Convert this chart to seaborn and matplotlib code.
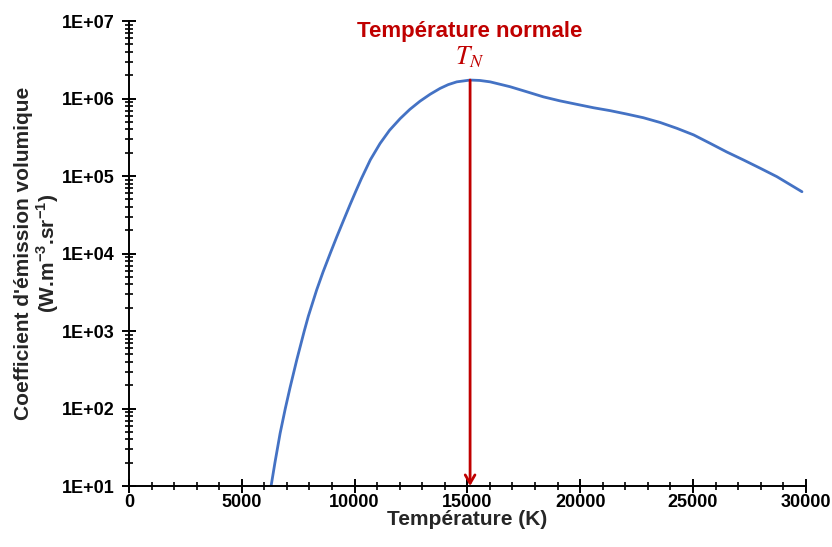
import numpy as np
import pandas as pd
import matplotlib
matplotlib.use("Agg")
import matplotlib.pyplot as plt
from matplotlib.ticker import FixedLocator, MultipleLocator, NullFormatter
import seaborn as sns

temperature = [6300, 6470, 6700, 6930, 7140, 7440, 7770, 7950, 8320, 8600, 8930, 9210,
               9500, 9800, 10050, 10300, 10700, 11130, 11550, 12020, 12450, 12900,
               13350, 13790, 14150, 14530, 15120, 15550, 16010, 16890, 17600, 18370,
               19100, 19850, 20600, 21330, 22050, 22800, 23550, 24290, 25030, 25760,
               26500, 27240, 27980, 28720, 29300, 29830]
emission = [1.0e1, 2.0e1, 4.79e1, 1.0e2, 1.86e2, 4.27e2, 1.0e3, 1.55e3, 3.39e3, 5.75e3,
            1.02e4, 1.64e4, 2.63e4, 4.27e4, 6.31e4, 9.23e4, 1.62e5, 2.63e5, 3.89e5,
            5.50e5, 7.24e5, 9.23e5, 1.135e6, 1.35e6, 1.51e6, 1.64e6, 1.73e6, 1.71e6,
            1.64e6, 1.42e6, 1.23e6, 1.05e6, 9.33e5, 8.41e5, 7.59e5, 6.97e5, 6.31e5,
            5.65e5, 4.90e5, 4.12e5, 3.39e5, 2.64e5, 2.04e5, 1.61e5, 1.26e5, 9.8e4,
            7.76e4, 6.27e4]
y_ticks = [1e1, 1e2, 1e3, 1e4, 1e5, 1e6, 1e7]
y_tick_labels = ["1E+01", "1E+02", "1E+03", "1E+04", "1E+05", "1E+06", "1E+07"]
x_ticks = [0, 5000, 10000, 15000, 20000, 25000, 30000]
x_tick_labels = ["0", "5000", "10000", "15000", "20000", "25000", "30000"]
t_normal = 15120
peak_value = 1.73e6
title_text = "Température normale"
x_label = "Température (K)"
y_label = "Coefficient d'émission volumique\n(W.m$^{\\mathbf{-3}}$.sr$^{\\mathbf{-1}}$)"

sns.set_style("ticks")
plt.rcParams['font.family'] = ['Liberation Sans', 'DejaVu Sans']
plt.rcParams['mathtext.fontset'] = 'custom'
plt.rcParams['mathtext.rm'] = 'Liberation Sans:bold'
plt.rcParams['mathtext.bf'] = 'Liberation Sans:bold'

fig = plt.figure(figsize=(8.32, 5.47), dpi=100)
ax = fig.add_axes([0.155, 0.1115, 0.8135, 0.8501])

df = pd.DataFrame({"T": temperature, "E": emission})
sns.lineplot(data=df, x="T", y="E", ax=ax, color="#4472C4", linewidth=2.0)

ax.set_yscale("log")
ax.set_xlim(0, 30000)
ax.set_ylim(1e1, 1e7)

ax.set_xticks(x_ticks)
ax.set_xticklabels(x_tick_labels)
ax.xaxis.set_minor_locator(MultipleLocator(1000))
ax.set_yticks(y_ticks)
ax.set_yticklabels(y_tick_labels)
minor_y = [m * d for d in y_ticks[:-1] for m in range(2, 10)]
ax.yaxis.set_minor_locator(FixedLocator(minor_y))
ax.yaxis.set_minor_formatter(NullFormatter())
ax.xaxis.set_minor_formatter(NullFormatter())

for s in ["top", "right"]:
    ax.spines[s].set_visible(False)
for s in ["left", "bottom"]:
    ax.spines[s].set_linewidth(1.4)
    ax.spines[s].set_color("black")

ax.tick_params(axis="both", which="major", direction="inout", length=10, width=1.4,
               colors="black", labelsize=13)
ax.tick_params(axis="both", which="minor", direction="inout", length=6, width=1.2,
               colors="black")
ax.tick_params(axis="x", which="major", pad=1)
ax.tick_params(axis="y", which="major", pad=5)
for lab in ax.get_xticklabels() + ax.get_yticklabels():
    lab.set_fontweight("bold")

ax.set_xlabel(x_label, fontsize=15, fontweight="bold", labelpad=-1)
ax.set_ylabel(y_label, fontsize=15, fontweight="bold", labelpad=1, linespacing=1.05)

ax.annotate("", xy=(t_normal, 1e1), xytext=(t_normal, peak_value),
            arrowprops=dict(arrowstyle="->,head_length=0.6,head_width=0.35",
                            color="#C00000", lw=2.0, shrinkA=0, shrinkB=0))

ax.text(0.565, 1 - 37 / 547, title_text, transform=fig.transFigure, ha="center",
        va="baseline", color="#C00000", fontsize=16, fontweight="bold")
ax.text(0.5645, 1 - 64 / 547, "$\\mathit{T_N}$", transform=fig.transFigure, ha="center",
        va="baseline", color="#C00000", fontsize=18.5, math_fontfamily="stix")

fig.savefig("out.png", dpi=100)
